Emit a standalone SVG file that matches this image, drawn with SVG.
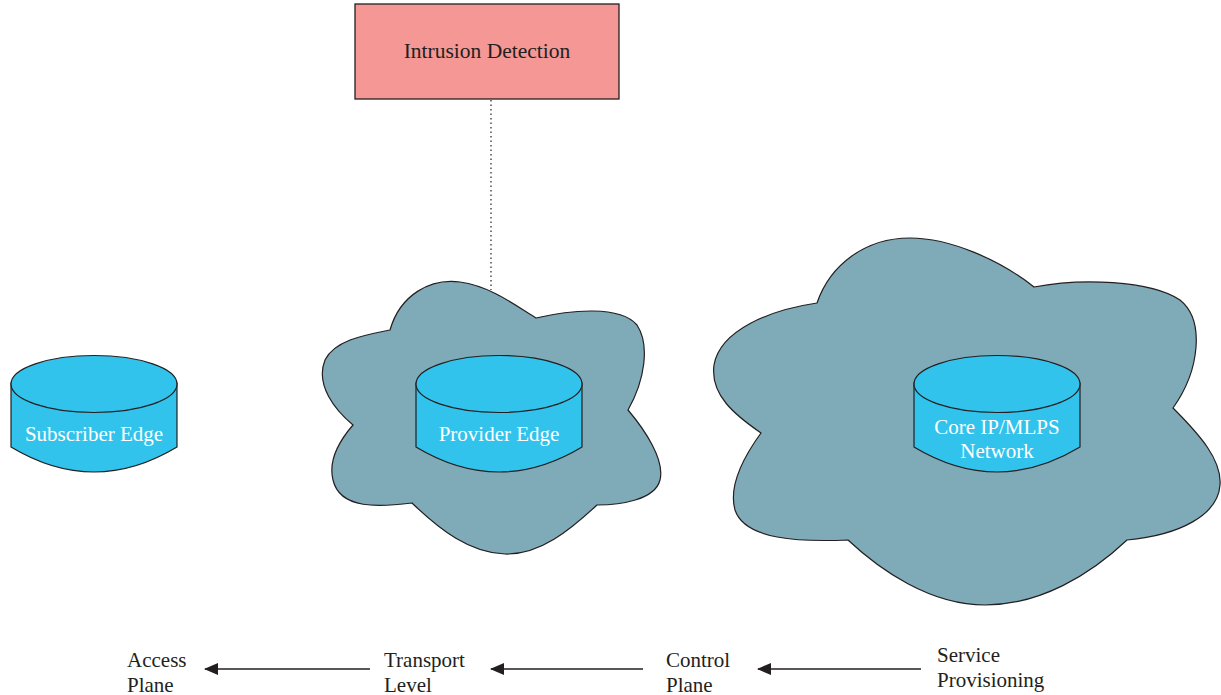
<svg xmlns="http://www.w3.org/2000/svg" width="1221" height="695" viewBox="0 0 1221 695">
<style>
  .cloud{fill:#7faab8;stroke:#231f20;stroke-width:1.2}
  .cyl{fill:#31c3eb;stroke:#231f20;stroke-width:1.2}
  .lbl{font-family:"Liberation Serif","Times New Roman",serif;font-size:21px;fill:#ffffff;text-anchor:middle}
  .blbl{font-family:"Liberation Serif","Times New Roman",serif;font-size:21px;fill:#231f20}
  .conn{stroke:#231f20;stroke-width:1.3;fill:none}
</style>
<defs>
  <marker id="ah" markerWidth="14" markerHeight="12" refX="13" refY="6" orient="auto" markerUnits="userSpaceOnUse">
    <path d="M0,0 L14,6 L0,12 Z" fill="#231f20"/>
  </marker>
  <g id="cylshape">
    <path class="cyl" d="M-83,383 L-83,447 Q0,497 83,447 L83,383 Z"/>
    <ellipse class="cyl" cx="0" cy="384" rx="83" ry="28.5"/>
  </g>
</defs>
<rect width="1221" height="695" fill="#ffffff"/>

<g id="connectors">
  <line x1="491" y1="100" x2="491" y2="290" stroke="#231f20" stroke-width="1.2" stroke-dasharray="1.5,3"/>
  <line class="conn" x1="370" y1="669" x2="205" y2="669" marker-end="url(#ah)"/>
  <line class="conn" x1="643" y1="669" x2="491" y2="669" marker-end="url(#ah)"/>
  <line class="conn" x1="921" y1="669" x2="758" y2="669" marker-end="url(#ah)"/>
</g>

<g id="intrusion-detection">
  <rect x="355" y="4" width="264" height="95" fill="#f49795" stroke="#231f20" stroke-width="1.3"/>
  <text x="487" y="58" font-family="'Liberation Serif','Times New Roman',serif" font-size="21.5" fill="#231f20" text-anchor="middle">Intrusion Detection</text>
</g>

<g id="provider-cloud">
  <path class="cloud" d="M390,330 C400,295 430,278 460,282 C490,286 515,305 536,318 C570,310 620,305 637,325 C650,345 645,380 628,410 C645,430 665,460 660,480 C655,500 620,505 597,505 C570,530 540,555 505,554 C470,553 440,530 412,503 C380,507 340,510 333,480 C328,460 340,440 353,425 C335,410 315,385 325,360 C335,340 365,335 390,330 Z"/>
</g>

<g id="core-cloud">
  <path class="cloud" d="M817,303 C830,265 865,238 910,238 C950,238 1000,260 1034,287 C1080,278 1150,280 1180,300 C1205,320 1200,370 1173,408 C1200,435 1222,460 1220,485 C1218,515 1180,535 1127,540 C1090,575 1040,605 985,605 C930,605 880,570 848,540 C800,542 745,540 735,510 C728,485 745,455 761,433 C735,415 710,395 714,365 C720,330 770,310 817,303 Z"/>
</g>

<g id="subscriber-edge">
  <use href="#cylshape" transform="translate(94,0)"/>
  <text class="lbl" x="94" y="441">Subscriber Edge</text>
</g>

<g id="provider-edge">
  <use href="#cylshape" transform="translate(499,0)"/>
  <text class="lbl" x="499" y="441">Provider Edge</text>
</g>

<g id="core-network">
  <use href="#cylshape" transform="translate(997,0)"/>
  <text class="lbl" x="997" y="434">Core IP/MLPS</text>
  <text class="lbl" x="997" y="458">Network</text>
</g>

<g id="access-plane">
  <text class="blbl" x="127" y="667">Access</text>
  <text class="blbl" x="127" y="692">Plane</text>
</g>
<g id="transport-level">
  <text class="blbl" x="384" y="667">Transport</text>
  <text class="blbl" x="384" y="692">Level</text>
</g>
<g id="control-plane">
  <text class="blbl" x="666" y="667">Control</text>
  <text class="blbl" x="666" y="692">Plane</text>
</g>
<g id="service-provisioning">
  <text class="blbl" x="937" y="662">Service</text>
  <text class="blbl" x="937" y="687">Provisioning</text>
</g>
</svg>
